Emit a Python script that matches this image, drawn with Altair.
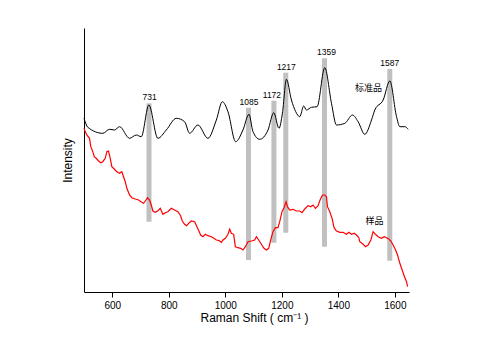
import altair as alt
import pandas as pd

# Standard (black) spectrum
std_x = [500, 513.5, 566.6, 590.3, 608, 625.8, 661.2, 684.9, 702.6, 729.5, 761.4, 791.2, 826.6, 856, 873.7,
         903.1, 938.5, 968.3, 989.5, 1009.4, 1036.7, 1062.5, 1083.8, 1097.9, 1121.7, 1151.1, 1171.3, 1190,
         1202.1, 1216.3, 1234, 1249.2, 1263.4, 1277.5, 1287.1, 1304.8, 1324.7, 1351.9, 1375.7, 1393.4,
         1422.8, 1450, 1469.9, 1493.6, 1517.4, 1529.1, 1558.5, 1582.2, 1605.9, 1617.6, 1635.4, 1647]
std_y = [173.7, 164.7, 158.7, 162.7, 162, 165.3, 153.7, 157, 155.3, 187, 153.7, 162, 173.7, 170.3, 158.7,
         167, 153.7, 172, 190.3, 180.3, 150.3, 162, 177.7, 160.3, 152.7, 162, 179.3, 163.7,
         178.7, 212.7, 192, 180.3, 175.3, 186, 182, 184.7, 185.3, 224.3, 188.7, 167,
         168.7, 177, 170.3, 157.7, 172, 182, 192, 211, 175.3, 165.3, 165.3, 162.7]

# Sample (red) spectrum
smp_x = [500, 501.8, 509.9, 519.5, 524.1, 531.2, 536.1, 543.2, 551.4, 559.5, 566.6, 575.1, 580.8, 586.8,
         592.8, 598.5, 607, 616.2, 625.8, 633.9, 639.9, 645.9, 651.6, 661.2, 669.3, 681.4, 693.1, 701.2,
         710.8, 716.8, 724.9, 732, 738, 743.7, 752.2, 760.4, 769.9, 779.1, 787.6, 796.8, 808.9, 820.6,
         832.3, 841.8, 847.8, 856, 863.1, 870.2, 879.7, 891.4, 899.6, 906.7, 912.7, 920.8, 929.3, 938.5,
         950.6, 959.8, 968.3, 976.4, 986, 991.7, 1000.2, 1009.4, 1015.4, 1021.4, 1029.6, 1035.6, 1044.8,
         1054.4, 1062.5, 1071, 1080.2, 1092.3, 1104, 1110, 1118.1, 1127.7, 1136.9, 1145.4, 1153.6, 1160.6,
         1168.8, 1177.3, 1186.5, 1192.5, 1200.7, 1207.8, 1214.8, 1219.8, 1228, 1239.6, 1251.7, 1263.4,
         1271.5, 1281.1, 1292.8, 1302.3, 1310.5, 1319, 1328.2, 1335.3, 1343.8, 1351.9, 1357.9, 1361.5,
         1369.7, 1377.8, 1384.9, 1393.4, 1405.1, 1416.8, 1428.8, 1437, 1446.5, 1455.7, 1464.2, 1472.4,
         1475.9, 1487.6, 1496.1, 1505.3, 1514.9, 1523, 1531.5, 1540.7, 1552.8, 1562, 1570.5, 1578.6,
         1585.7, 1593.9, 1602.4, 1609.5, 1617.6, 1625.8, 1632.8, 1641.3, 1644.9]
smp_y = [163.7, 162, 157, 153.7, 145.3, 140.3, 135.3, 133.7, 131, 129.3, 130.3, 133.7, 140.3, 141,
         133.7, 125.3, 123, 120.3, 118.7, 120.3, 115.3, 110.3, 103.7, 97, 94.3, 93, 92, 90.3,
         88.7, 91, 94.3, 92, 87, 81, 79.7, 81, 83.7, 77.7, 79.3, 80.3, 83.7, 82,
         80.3, 76.3, 71, 67.7, 66.3, 68.7, 71, 70.3, 65.3, 61, 57, 55.3, 57.7, 56.3,
         55.3, 53.7, 52, 51.7, 49.7, 52, 53.7, 57.7, 62.7, 58.7, 57.7, 45.3, 44.3,
         43.7, 42, 45.3, 50.3, 51, 52, 55.3, 52, 47.7, 43.7, 42, 43.7, 52,
         60.3, 64.3, 64.3, 70.3, 80.3, 84.3, 90.3, 85.3, 82, 82.7, 81, 81,
         79.3, 83, 86.3, 85.3, 87, 83.7, 86.3, 92, 97, 97, 95.3, 85.3,
         80.3, 73.7, 64.3, 61, 59.7, 59.7, 57.7, 59.7, 57.7, 58.7, 57, 54.3,
         50.3, 47.7, 45.3, 47, 52, 60.3, 57.7, 55.3, 53.7, 55.3, 54.3, 53,
         51, 47, 42, 37, 28.7, 22, 16.3, 10.3, 5.3]

# Peak marker bars
peak_labels = ["731", "1085", "1172", "1217", "1359", "1587"]
bar_x = [730, 1082, 1172, 1214, 1351, 1582]
bar_top = [188.7, 184.3, 191.3, 219.3, 233.7, 223]
bar_bottom = [70.3, 32, 49.3, 59.3, 45.3, 31.3]
label_x = [732, 1084, 1165, 1216, 1358, 1582]

# Series names
name_text = ["标准品", "样品"]
name_x = [1507, 1528]
name_y = [204.5, 71]

x_ticks = list(range(600, 1700, 100))

std_df = pd.DataFrame({"x": std_x, "y": std_y})
smp_df = pd.DataFrame({"x": smp_x, "y": smp_y})
bar_df = pd.DataFrame({"x": bar_x, "top": bar_top, "bottom": bar_bottom,
                       "label": peak_labels, "lx": label_x})
name_df = pd.DataFrame({"t": name_text, "x": name_x, "y": name_y})

FONT = "Liberation Sans"

xscale = alt.Scale(domain=[500, 1650], nice=False, zero=False)
yscale = alt.Scale(domain=[0, 264], nice=False, zero=False)

xaxis = alt.Axis(
    values=x_ticks,
    title="Raman Shift ( cm⁻¹ )",
    labelExpr="datum.value % 200 == 0 ? datum.label : ''",
    format="d",
    tickSize={"condition": {"test": "datum.value % 200 == 0", "value": 5}, "value": 3},
    tickColor="black", domainColor="black", labelColor="black", titleColor="black",
    labelFont=FONT, labelFontSize=10, titleFont=FONT, titleFontSize=12,
    titleFontWeight="normal", labelPadding=3, titlePadding=2, grid=False,
    titleX=170, titleAlign="center",
)
yaxis = alt.Axis(
    title="Intensity", ticks=False, labels=False, domainColor="black",
    titleColor="black", titleFont=FONT, titleFontSize=12, titleFontWeight="normal",
    titlePadding=10, grid=False,
)

bars = alt.Chart(bar_df).mark_rule(color="#c0c0c0", strokeWidth=5).encode(
    x=alt.X("x:Q", scale=xscale, axis=xaxis),
    y=alt.Y("bottom:Q", scale=yscale, axis=yaxis),
    y2="top:Q",
)

black = alt.Chart(std_df).mark_line(color="black", strokeWidth=1, interpolate="monotone").encode(
    x=alt.X("x:Q", scale=xscale), y=alt.Y("y:Q", scale=yscale)
)
red = alt.Chart(smp_df).mark_line(color="#ff0000", strokeWidth=1.2).encode(
    x=alt.X("x:Q", scale=xscale), y=alt.Y("y:Q", scale=yscale)
)

labels = alt.Chart(bar_df).mark_text(font=FONT, fontSize=8.5, baseline="bottom", dy=-1,
                                     color="black").encode(
    x=alt.X("lx:Q", scale=xscale), y=alt.Y("top:Q", scale=yscale), text="label:N"
)

names = alt.Chart(name_df).mark_text(font="Noto Sans CJK SC", fontSize=9, baseline="middle",
                                     color="black").encode(
    x=alt.X("x:Q", scale=xscale), y=alt.Y("y:Q", scale=yscale), text="t:N"
)

chart = alt.layer(bars, black, red, labels, names).properties(
    width=325, height=264,
    autosize=alt.AutoSizeParams(type="none"),
    padding={"left": 84, "top": 28, "right": 77, "bottom": 46},
    background="white",
).configure_view(stroke=None)

chart.save("out.html", embed_options={"renderer": "svg", "actions": False})
